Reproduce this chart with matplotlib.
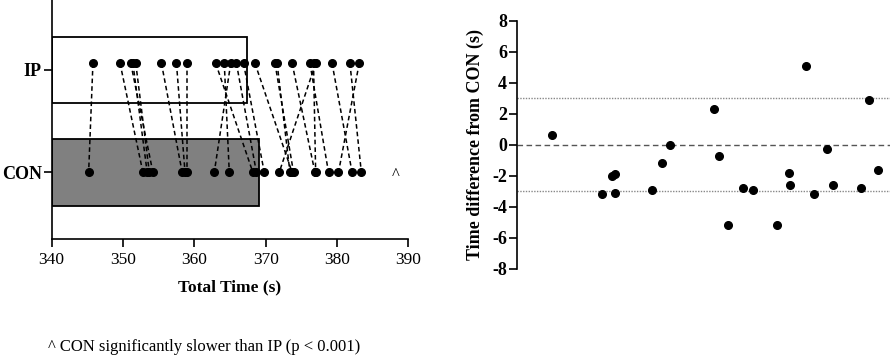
import matplotlib
matplotlib.use("Agg")
import matplotlib.pyplot as plt
import numpy as np

plt.rcParams['font.family'] = ['Liberation Serif', 'DejaVu Serif']

# ---- data ----
categories = ["CON", "IP"]
ip_times = [345.8, 349.6, 351.4, 351.8, 351.1, 355.4, 357.5, 359.0, 365.1, 364.2,
            363.0, 365.9, 366.9, 368.5, 371.6, 371.3, 377.0, 373.7, 376.7, 376.2,
            379.3, 383.1, 381.8]
con_times = [345.2, 352.8, 353.4, 353.7, 354.2, 358.3, 358.7, 359.0, 362.8, 364.9,
             368.2, 368.7, 369.8, 373.7, 373.4, 373.9, 371.9, 376.9, 377.0, 378.8,
             382.1, 380.2, 383.4]
bar_means = {"CON": 369.0, "IP": 367.4}
x_ticks = [340, 350, 360, 370, 380, 390]
y_ticks_diff = [-8, -6, -4, -2, 0, 2, 4, 6, 8]
limits_of_agreement = [-3.0, 3.0]
footnote = "^ CON significantly slower than IP (p < 0.001)"

ip = np.array(ip_times)
con = np.array(con_times)
diff = ip - con
mean = (ip + con) / 2

fig = plt.figure(figsize=(8.93, 3.6), dpi=100)

# ---- left panel ----
ax1 = fig.add_axes([0.0577, 0.3353, 0.3997, 0.6647])
con_y, ip_y = 0, 1
IP_DOT_OFFSET = 0.065
ax1.barh([con_y], [bar_means["CON"] - 340], left=340, height=0.65,
         color='#808080', edgecolor='black', linewidth=1.3, zorder=1)
ax1.barh([ip_y], [bar_means["IP"] - 340], left=340, height=0.65,
         color='white', edgecolor='black', linewidth=1.3, zorder=1)
for a, b in zip(ip, con):
    ax1.plot([a, b], [ip_y + IP_DOT_OFFSET, con_y], color='black', lw=1.1,
             ls=(0, (3, 2)), zorder=2)
ax1.plot(ip, np.full_like(ip, ip_y + IP_DOT_OFFSET), 'o', color='black', ms=5.5, zorder=3)
ax1.plot(con, np.full_like(con, con_y), 'o', color='black', ms=5.5, zorder=3)
ax1.text(388.2, con_y - 0.03, "^", ha='center', va='center', fontsize=12)

ax1.set_xlim(340, 390)
ax1.set_ylim(-0.655, 1.684)
ax1.set_xticks(x_ticks)
ax1.set_yticks([con_y, ip_y])
ax1.set_yticklabels(categories, fontsize=13, fontweight='bold')
ax1.tick_params(axis='x', labelsize=12.5, width=1.2, length=6)
ax1.tick_params(axis='y', width=1.2, length=6, pad=1)
for s in ['top', 'right']:
    ax1.spines[s].set_visible(False)
for s in ['left', 'bottom']:
    ax1.spines[s].set_linewidth(1.2)
ax1.set_xlabel("Total Time (s)", fontsize=12.5, fontweight='bold', labelpad=8)

# ---- right panel ----
ax2 = fig.add_axes([0.5786, 0.2536, 0.418, 0.6889])
ax2.axhline(0, color='#555555', lw=1.0, ls=(0, (4, 2.5)), zorder=1)
for v in limits_of_agreement:
    ax2.axhline(v, color='#888888', lw=1.0, ls=(0, (1, 1)), zorder=1)
ax2.plot(mean, diff, 'o', color='black', ms=5.5, zorder=3)
ax2.set_xlim(341.5, 384.0)
ax2.set_ylim(-8, 8)
ax2.set_yticks(y_ticks_diff)
ax2.set_yticklabels([str(t) for t in y_ticks_diff], fontsize=13, fontweight='bold')
ax2.tick_params(axis='y', width=1.2, length=6, pad=1)
ax2.set_xticks([])
for s in ['top', 'right', 'bottom']:
    ax2.spines[s].set_visible(False)
ax2.spines['left'].set_linewidth(1.2)
ax2.set_ylabel("Time difference from CON (s)", fontsize=13, fontweight='bold', labelpad=6)

fig.text(0.0538, 0.036, footnote, fontsize=12, ha='left', va='center')

fig.savefig("out.png", dpi=100)
